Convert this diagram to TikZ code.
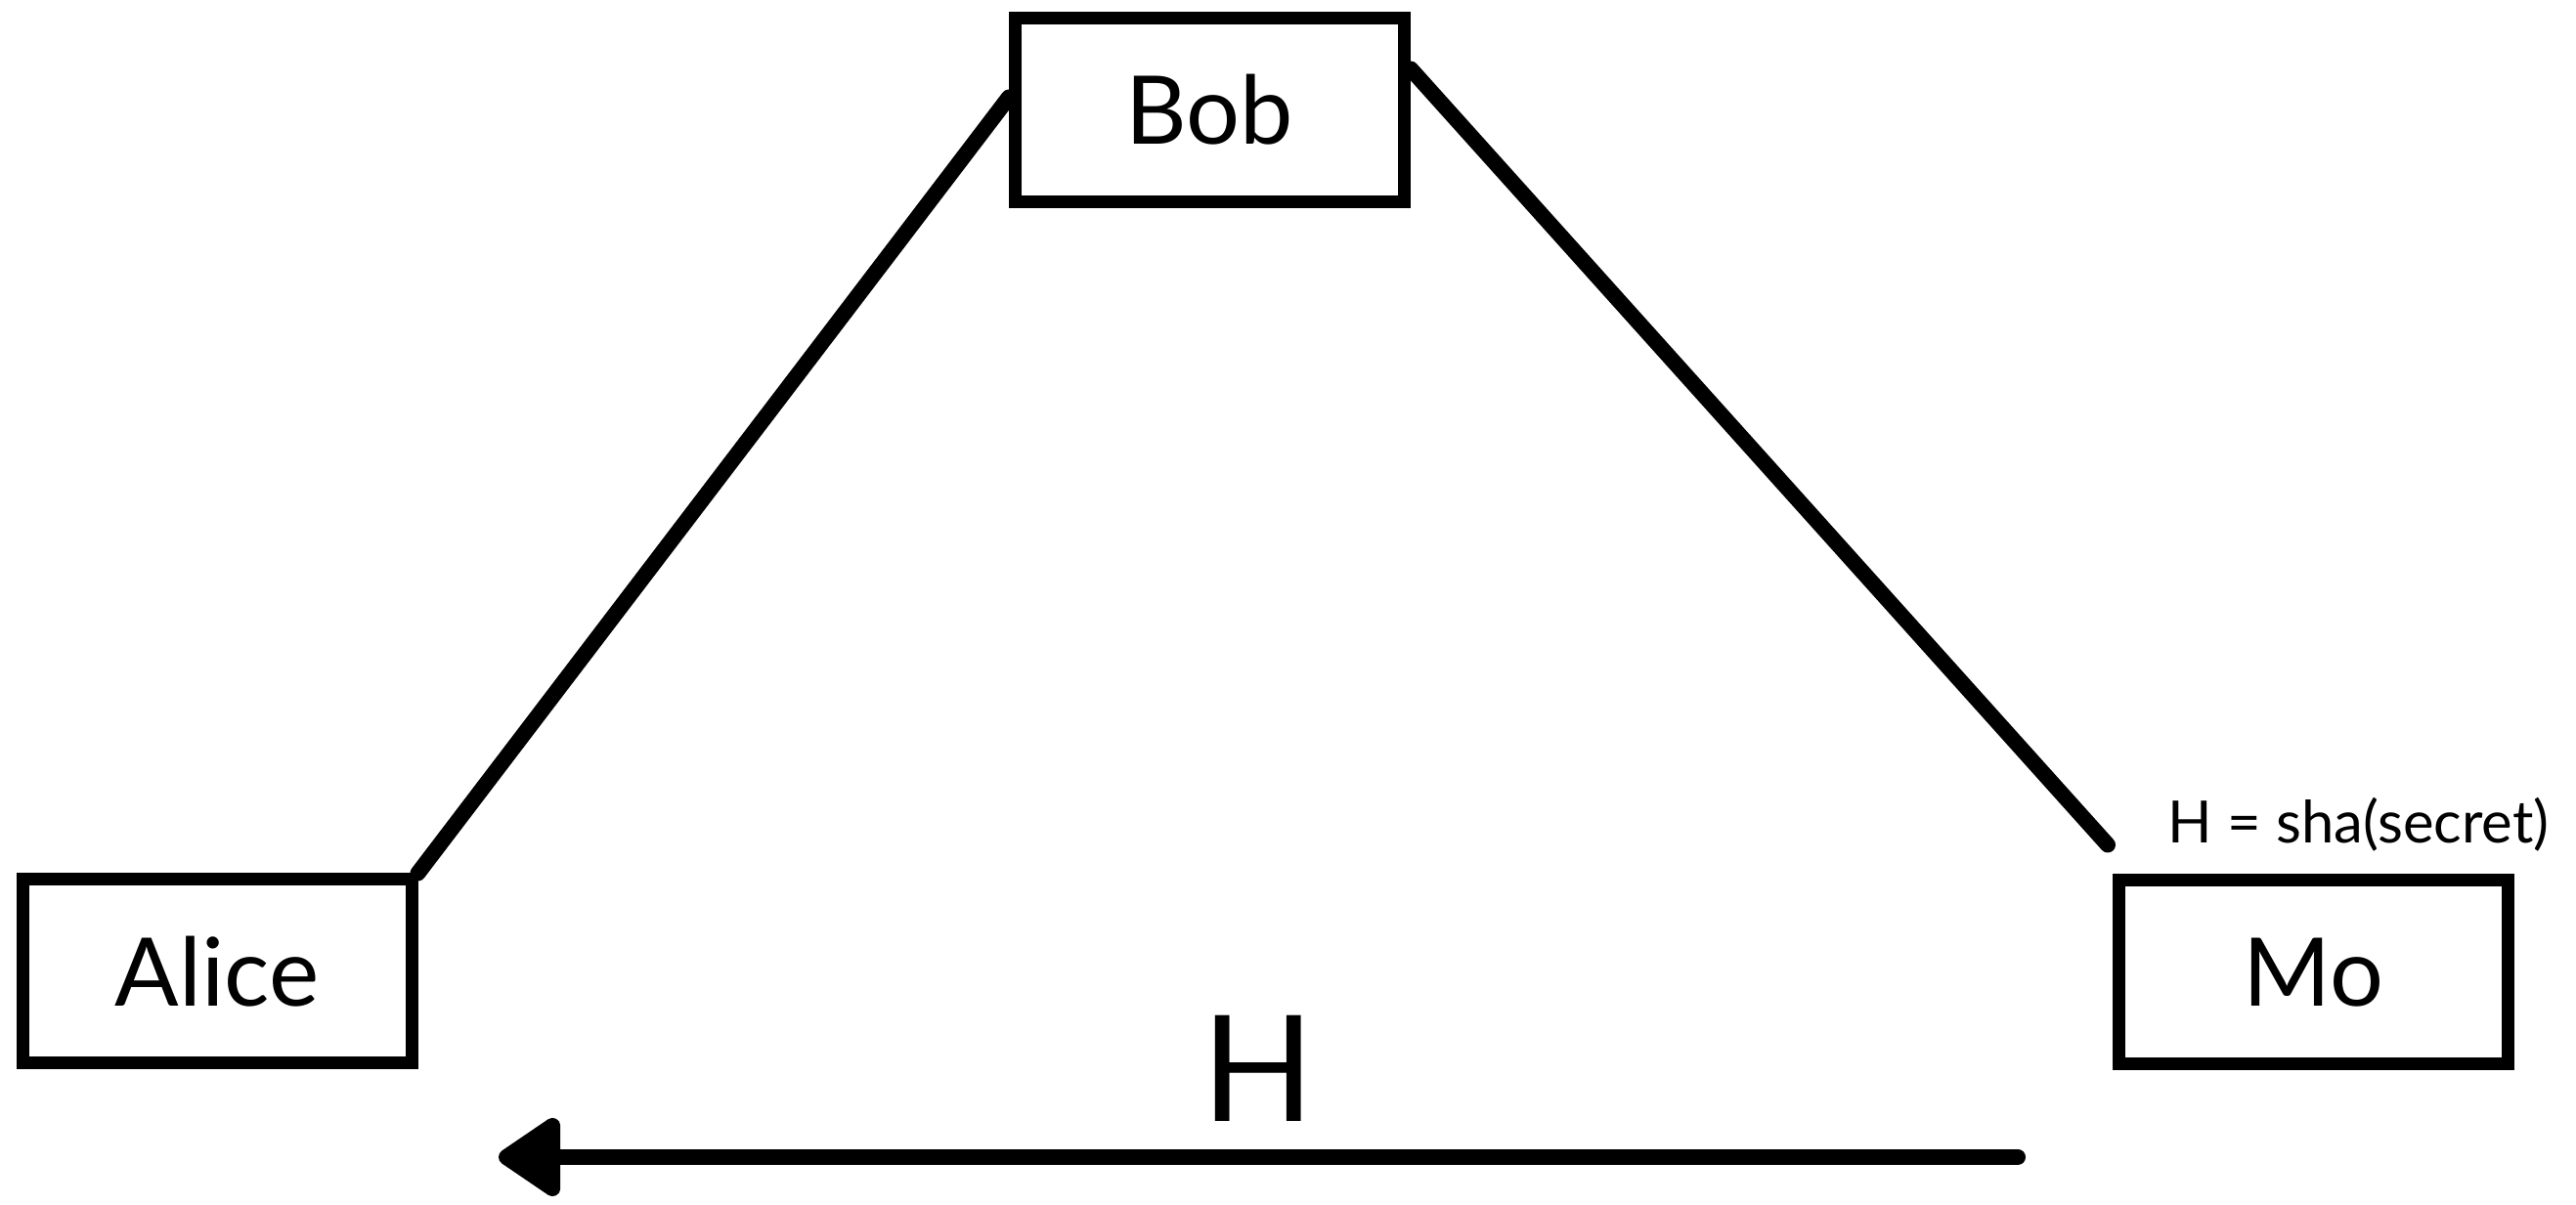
\documentclass[tikz,border=0pt]{standalone}
\usepackage{fontspec}
\setmainfont{Lato}
\usepackage{tikz}
\usetikzlibrary{arrows.meta,calc}

\begin{document}
\begin{tikzpicture}[
    party/.style={draw, line width=0.13cm, minimum width=3.98cm, minimum height=1.88cm,
      inner sep=0pt, font=\fontsize{27.6}{33}\selectfont},
    link/.style={line width=0.16cm, line cap=round},
    every node/.style={text=black}]
  \useasboundingbox (0,0) rectangle (26.35,12.33);
  \node[party] (alice) at (2.22,2.39) {Alice};
  \node[party] (bob) at (12.375,11.205) {Bob};
  \node[party] (mo) at (23.665,2.38) {Mo};
  \node[anchor=base west, inner sep=0pt, font=\fontsize{17}{20}\selectfont] (hdef) at (22.17,3.70) {H = sha(secret)};
  % connectors
  \coordinate (moend) at ($(mo.north west)+(-0.05,0.3)$);
  \coordinate (hstart) at (20.64,0.49);
  \coordinate (htip) at (5.10,0.49);
  \draw[link] (alice.north east) -- ($(bob.west)+(0,0.13)$);
  \draw[link] ($(bob.east)+(0,0.42)$) -- (moend);
  \draw[link, -{Triangle[length=0.7cm,width=0.9cm,round]}] (hstart) -- node[above=0.28cm, inner sep=0pt, font=\fontsize{43}{50}\selectfont] (hlabel) {H} (htip);
\end{tikzpicture}
\end{document}
